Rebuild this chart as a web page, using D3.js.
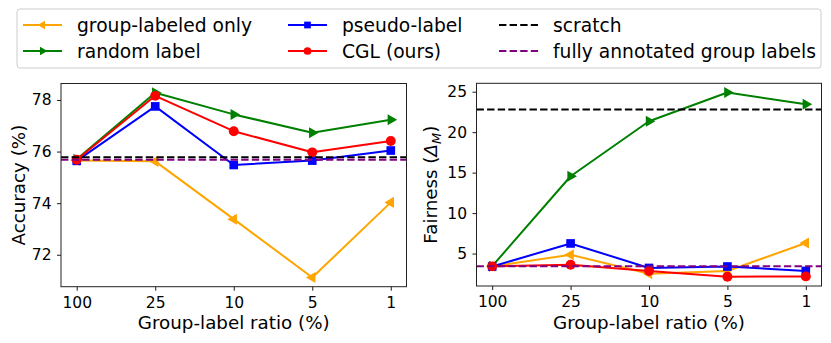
<!DOCTYPE html>
<html><head><meta charset="utf-8">
<script src="https://cdn.jsdelivr.net/npm/d3@7"></script>
<style>body{margin:0;background:#fff}svg{display:block;font-family:"DejaVu Sans",sans-serif}</style>
</head><body><svg id="c" width="831" height="343"></svg>
<script>
const categories = ["100","25","10","5","1"];
// Accuracy (%)
const accGroupOnly = [75.65, 75.62, 73.38, 71.12, 74.03];
const accRandom    = [75.70, 78.28, 77.44, 76.73, 77.23];
const accPseudo    = [75.64, 77.75, 75.48, 75.65, 76.04];
const accCGL       = [75.68, 78.16, 76.79, 75.97, 76.41];
const accScratch = 75.78;
const accFull = 75.68;
// Fairness (Delta_M)
const fairGroupOnly = [3.42, 4.85, 2.50, 2.85, 6.30];
const fairRandom    = [3.44, 14.55, 21.35, 24.90, 23.45];
const fairPseudo    = [3.40, 6.25, 3.22, 3.40, 2.85];
const fairCGL       = [3.42, 3.62, 2.83, 2.13, 2.18];
const fairScratch = 22.8;
const fairFull = 3.44;
const accTicks = [72, 74, 76, 78];
const fairTicks = [5, 10, 15, 20, 25];

const names = ["group-labeled only","random label","pseudo-label","CGL (ours)","scratch","fully annotated group labels"];
const colors = {go:"#ffa500", rl:"#008000", pl:"#0000ff", cgl:"#ff0000", sc:"#000000", fu:"#800080"};

const svg = d3.select("#c");

function marker(g, type, x, y, color, s) {
  if (type === "o") {
    g.append("circle").attr("cx", x).attr("cy", y).attr("r", s*0.55).attr("fill", color);
  } else if (type === "s") {
    g.append("rect").attr("x", x - s*0.48).attr("y", y - s*0.48).attr("width", s*0.96).attr("height", s*0.96).attr("fill", color);
  } else {
    const r = s*0.62;
    const sym = d3.symbol().type(d3.symbolTriangle).size(r*r*1.7);
    const rot = type === "<" ? -90 : 90;
    g.append("path").attr("d", sym()).attr("transform", `translate(${x},${y}) rotate(${rot})`).attr("fill", color);
  }
}

function panel(opts) {
  const {x0, x1, y0, y1, series, hlines, ticks, ylabelFn} = opts;
  const all = series.flatMap(s => s.values);
  const lo = d3.min(all), hi = d3.max(all), pad = (hi - lo) * 0.05;
  const x = d3.scalePoint().domain(categories).range([x0, x1]).padding(0.2);
  const y = d3.scaleLinear().domain([lo - pad, hi + pad]).range([y1, y0]);
  const g = svg.append("g");
  const clip = "clip" + Math.round(x0);
  svg.append("clipPath").attr("id", clip).append("rect").attr("x", x0).attr("y", y0).attr("width", x1 - x0).attr("height", y1 - y0);
  const pg = g.append("g").attr("clip-path", `url(#${clip})`);
  const line = d3.line().x((d, i) => x(categories[i])).y(d => y(d));
  series.forEach(s => {
    const sg = pg.append("g");
    sg.append("path").attr("d", line(s.values)).attr("fill", "none").attr("stroke", s.color).attr("stroke-width", 2).attr("stroke-linejoin", "round");
    s.values.forEach((v, i) => marker(sg, s.m, x(categories[i]), y(v), s.color, 9));
  });
  hlines.forEach(h => {
    pg.append("line").attr("x1", x0).attr("x2", x1).attr("y1", y(h.v)).attr("y2", y(h.v))
      .attr("stroke", h.color).attr("stroke-width", 2).attr("stroke-dasharray", "7.4,3.2");
  });
  // axes
  const ax = g.append("g").attr("transform", `translate(0,${y1})`).call(d3.axisBottom(x).tickSizeOuter(0).tickSize(4).tickPadding(6));
  const ay = g.append("g").attr("transform", `translate(${x0},0)`).call(d3.axisLeft(y).tickValues(ticks).tickSizeOuter(0).tickSize(4).tickPadding(5.5));
  [ax, ay].forEach(a => {
    a.select(".domain").remove();
    a.selectAll("line").attr("stroke", "#000").attr("stroke-width", 0.9);
    a.selectAll("text").attr("font-size", 15.5).attr("fill", "#000").attr("font-family", "DejaVu Sans");
  });
  g.append("rect").attr("x", x0).attr("y", y0).attr("width", x1 - x0).attr("height", y1 - y0)
    .attr("fill", "none").attr("stroke", "#222").attr("stroke-width", 1);
  g.append("text").attr("x", (x0 + x1) / 2).attr("y", 328.5).attr("text-anchor", "middle").attr("font-size", 18.3).text("Group-label ratio (%)");
  ylabelFn(g, (y0 + y1) / 2);
}

panel({
  x0: 61, x1: 406.5, y0: 83.5, y1: 286.7,
  series: [
    {values: accGroupOnly, color: colors.go, m: "<"},
    {values: accRandom, color: colors.rl, m: ">"},
    {values: accPseudo, color: colors.pl, m: "s"},
    {values: accCGL, color: colors.cgl, m: "o"}
  ],
  hlines: [{v: accScratch, color: colors.sc}, {v: accFull, color: colors.fu}],
  ticks: accTicks,
  ylabelFn: (g, cy) => g.append("text").attr("transform", `translate(24.5,${cy}) rotate(-90)`).attr("text-anchor", "middle").attr("font-size", 18.3).text("Accuracy (%)")
});

panel({
  x0: 476.5, x1: 821.5, y0: 83.3, y1: 286,
  series: [
    {values: fairGroupOnly, color: colors.go, m: "<"},
    {values: fairRandom, color: colors.rl, m: ">"},
    {values: fairPseudo, color: colors.pl, m: "s"},
    {values: fairCGL, color: colors.cgl, m: "o"}
  ],
  hlines: [{v: fairScratch, color: colors.sc}, {v: fairFull, color: colors.fu}],
  ticks: fairTicks,
  ylabelFn: (g, cy) => {
    const t = g.append("text").attr("transform", `translate(437,${cy}) rotate(-90)`).attr("text-anchor", "middle").attr("font-size", 18.3);
    t.append("tspan").text("Fairness (");
    t.append("tspan").attr("font-style", "italic").text("Δ");
    t.append("tspan").attr("font-style", "italic").attr("font-size", 13).attr("dy", 4).text("M");
    t.append("tspan").attr("dy", -4).text(")");
  }
});

// legend
const lg = svg.append("g");
lg.append("rect").attr("x", 17).attr("y", 9).attr("width", 804).attr("height", 59).attr("rx", 3)
  .attr("fill", "#fff").attr("fill-opacity", 0.8).attr("stroke", "#cccccc").attr("stroke-width", 1);
const entries = [
  {n: names[0], c: colors.go, m: "<", col: 0, row: 0},
  {n: names[1], c: colors.rl, m: ">", col: 0, row: 1},
  {n: names[2], c: colors.pl, m: "s", col: 1, row: 0},
  {n: names[3], c: colors.cgl, m: "o", col: 1, row: 1},
  {n: names[4], c: colors.sc, m: null, col: 2, row: 0},
  {n: names[5], c: colors.fu, m: null, col: 2, row: 1}
];
const colX = [23, 288, 499];
const rowY = [25, 51];
entries.forEach(e => {
  const hx = colX[e.col], hy = rowY[e.row];
  const l = lg.append("line").attr("x1", hx).attr("x2", hx + 39).attr("y1", hy).attr("y2", hy).attr("stroke", e.c).attr("stroke-width", 2);
  if (e.m) marker(lg, e.m, hx + 19.5, hy, e.c, 7);
  else l.attr("stroke-dasharray", "7.4,3.2");
  lg.append("text").attr("x", hx + 54).attr("y", hy + 6.7).attr("font-size", 18.7).text(e.n);
});
</script></body></html>
